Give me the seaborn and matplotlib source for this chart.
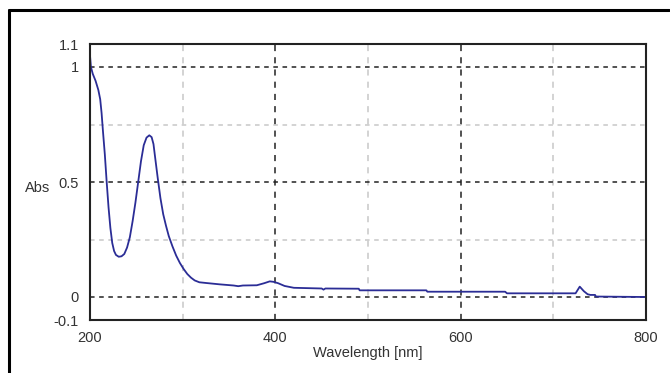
import matplotlib
matplotlib.use("Agg")
import matplotlib.pyplot as plt
import seaborn as sns
import pandas as pd
from matplotlib.lines import Line2D

wavelength = [200, 201, 203, 206, 209, 211, 212.5, 214, 216, 218, 220, 222, 224, 226,
              228, 231, 234, 237, 240, 243, 246, 249, 252, 255, 258, 261, 264, 266.5,
              268.5, 270.5, 273, 276, 279, 282, 285, 289, 293, 297, 301, 305, 309, 313,
              318, 325, 340, 355, 360, 365, 380, 388, 394, 398, 403, 410, 420, 450, 452,
              454, 490, 491, 563, 564, 648, 650, 724, 728.5, 733, 737, 740, 745, 746, 800]
absorbance = [1.05, 1.0, 0.97, 0.94, 0.90, 0.86, 0.80, 0.72, 0.62, 0.50, 0.39, 0.30,
              0.235, 0.20, 0.183, 0.175, 0.177, 0.187, 0.215, 0.26, 0.33, 0.41, 0.50,
              0.59, 0.66, 0.693, 0.703, 0.695, 0.665, 0.60, 0.52, 0.43, 0.36, 0.31,
              0.265, 0.22, 0.18, 0.148, 0.122, 0.10, 0.084, 0.072, 0.064, 0.061, 0.055,
              0.050, 0.047, 0.050, 0.051, 0.060, 0.068, 0.066, 0.060, 0.048, 0.040,
              0.037, 0.032, 0.037, 0.036, 0.029, 0.029, 0.023, 0.023, 0.016, 0.016,
              0.045, 0.025, 0.012, 0.009, 0.009, 0.002, 0.0]

x_major = [200, 400, 600, 800]
x_minor = [300, 500, 700]
y_major = [-0.1, 0, 0.5, 1, 1.1]
y_major_labels = ["-0.1", "0", "0.5", "1", "1.1"]
y_minor = [0.25, 0.75]

df = pd.DataFrame({"Wavelength": wavelength, "Abs": absorbance})

sns.set_style("white")
plt.rcParams["font.family"] = ["Liberation Sans", "DejaVu Sans"]

fig = plt.figure(figsize=(6.7, 3.73), dpi=100)
ax = fig.add_axes([90/670, 1-320/373, (646-90)/670, (320-44)/373])

ax.set_axisbelow(True)
for v in [400, 600]:
    ax.axvline(v, color="#222222", lw=1.1, ls=(0, (4, 4)), zorder=0)
for v in x_minor:
    ax.axvline(v, color="#c8c8c8", lw=1.1, ls=(0, (4, 4)), zorder=0)
for v in [0, 0.5, 1]:
    ax.axhline(v, color="#222222", lw=1.1, ls=(0, (3, 3)), zorder=0)
for v in y_minor:
    ax.axhline(v, color="#c8c8c8", lw=1.1, ls=(0, (3, 3)), zorder=0)

sns.lineplot(data=df, x="Wavelength", y="Abs", ax=ax, color="#2b2d96", lw=1.3)

ax.set_xlim(200, 800)
ax.set_ylim(-0.1, 1.1)
ax.set_xticks(x_major)
ax.set_xticks(x_minor, minor=True)
ax.set_yticks(y_major)
ax.set_yticklabels(y_major_labels)
ax.set_yticks(y_minor, minor=True)

ax.tick_params(axis="x", which="both", direction="in", length=8, width=1.5,
               color="#222222", labelsize=10.5, pad=8, labelcolor="#333333")
ax.tick_params(axis="y", which="major", direction="in", length=15, width=1.8,
               color="#222222", labelsize=10.5, pad=8, labelcolor="#333333")
ax.tick_params(axis="y", which="minor", direction="in", length=12, width=1.5,
               color="#222222")

for s in ax.spines.values():
    s.set_visible(True)
    s.set_color("#222222")
    s.set_linewidth(1.5)

ax.set_xlabel("Wavelength [nm]", fontsize=10.5, color="#333333", labelpad=1)
ax.set_ylabel("")
fig.text(38/670, 1-188/373, "Abs", fontsize=10.5, color="#333333", ha="center", va="center")

fig.add_artist(Line2D([8.5/670, 8.5/670], [0, 1-9.5/373], transform=fig.transFigure,
                      color="black", lw=2.2))
fig.add_artist(Line2D([8.5/670, 669/670], [1-9.5/373, 1-9.5/373], transform=fig.transFigure,
                      color="black", lw=2.2))

fig.savefig("out.png", dpi=100)
